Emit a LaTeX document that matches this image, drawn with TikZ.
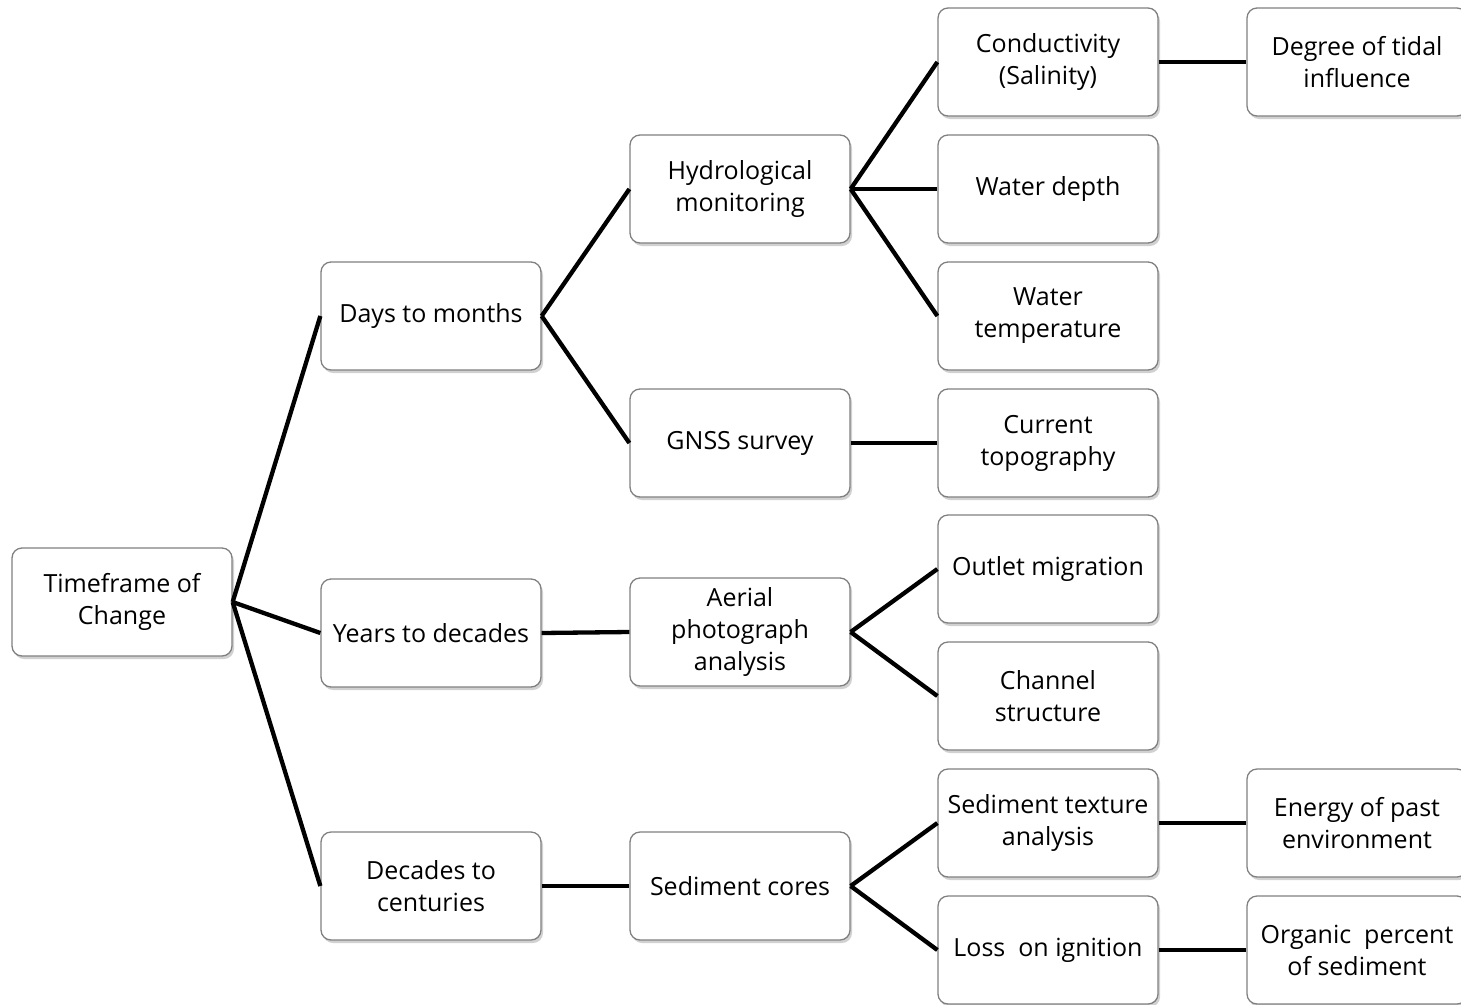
\documentclass[tikz,border=0pt]{standalone}
\usepackage{fontspec}
\setmainfont{Open Sans}
\usetikzlibrary{shadows}
\begin{document}
\begin{tikzpicture}[x=1pt,y=-1pt,
  box/.style={draw=black!50, line width=1.3pt, rounded corners=10pt, fill=white,
    minimum width=220pt, minimum height=108pt, inner sep=2pt, align=center,
    font=\fontsize{25}{32}\selectfont,
    drop shadow={shadow xshift=2pt, shadow yshift=-3pt, opacity=0.3, fill=black!60}},
  link/.style={line width=4.3pt, black}]
\useasboundingbox (0,0) rectangle (1461,1004);

% root
\node[box] (root) at (122,602) {Timeframe of\\Change};

% timescales
\node[box] (days)    at (431,316) {Days to months};
\node[box] (years)   at (431,633) {Years to decades};
\node[box] (decades) at (431,886) {Decades to\\centuries};

% methods
\node[box] (hydro)  at (740,189) {Hydrological\\monitoring};
\node[box] (gnss)   at (740,443) {GNSS survey};
\node[box] (aerial) at (740,632) {Aerial\\photograph\\analysis};
\node[box] (cores)  at (740,886) {Sediment cores};

% measurements
\node[box] (cond)    at (1048,62)  {Conductivity\\(Salinity)};
\node[box] (depth)   at (1048,189) {Water depth};
\node[box] (temp)    at (1048,316) {Water\\temperature};
\node[box] (topo)    at (1048,443) {Current\\topography};
\node[box] (outlet)  at (1048,569) {Outlet migration};
\node[box] (channel) at (1048,696) {Channel\\structure};
\node[box] (texture) at (1048,823) {Sediment texture\\analysis};
\node[box] (loi)     at (1048,950) {Loss\ \ on ignition};

% interpretations
\node[box] (tidal)   at (1357,62)  {Degree of tidal\\influence};
\node[box] (energy)  at (1357,823) {Energy of past\\environment};
\node[box] (organic) at (1357,950) {Organic\ \ percent\\of sediment};

% connectors
\foreach \a/\b in {root/days, root/years, root/decades,
                   days/hydro, days/gnss, years/aerial, decades/cores,
                   hydro/cond, hydro/depth, hydro/temp, gnss/topo,
                   aerial/outlet, aerial/channel, cores/texture, cores/loi,
                   cond/tidal, texture/energy, loi/organic}
  \draw[link] (\a.east) -- (\b.west);
\end{tikzpicture}
\end{document}
